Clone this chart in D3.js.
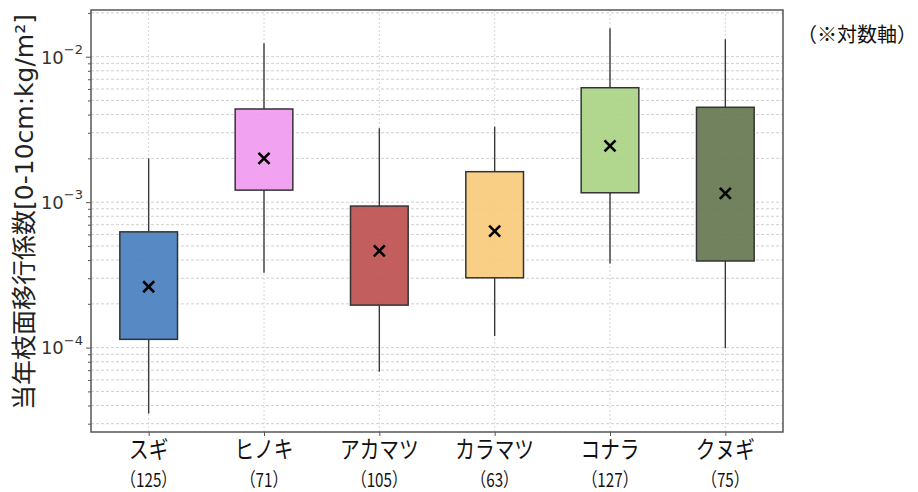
<!DOCTYPE html>
<html>
<head>
<meta charset="utf-8">
<script src="https://cdn.jsdelivr.net/npm/d3@7"></script>
<style>
  html, body { margin: 0; padding: 0; background: #ffffff; }
  svg { display: block; }
</style>
</head>
<body>
<svg id="chart" width="918" height="492"></svg>
<script>
// Species, sample sizes and box statistics (log-scale values)
const categories = ["スギ", "ヒノキ", "アカマツ", "カラマツ", "コナラ", "クヌギ"];
const counts = [125, 71, 105, 63, 127, 75];
const whiskerLow = [3.52e-5, 3.27e-4, 6.83e-5, 1.20e-4, 3.79e-4, 9.9e-5];
const q1 = [1.14e-4, 1.21e-3, 1.96e-4, 3.02e-4, 1.16e-3, 3.94e-4];
const q3 = [6.25e-4, 4.37e-3, 9.40e-4, 1.62e-3, 6.12e-3, 4.49e-3];
const whiskerHigh = [2.00e-3, 1.235e-2, 3.22e-3, 3.30e-3, 1.57e-2, 1.32e-2];
const means = [2.62e-4, 2.00e-3, 4.63e-4, 6.32e-4, 2.44e-3, 1.15e-3];
const boxColors = ["#4a80c0", "#f09cf0", "#bd5252", "#f7cb7c", "#abd487", "#687852"];
const majorTicks = [1e-4, 1e-3, 1e-2];
const yLabel = "当年枝面移行係数[0-10cm:kg/m²]";
const note = "（※対数軸）";

const svg = d3.select("#chart");
const plot = { left: 91, right: 783, top: 10, bottom: 432 };

const x = d3.scaleLinear().domain([0.5, categories.length + 0.5]).range([plot.left, plot.right]);
const y = d3.scaleLog().domain([2.63e-5, 2.094e-2]).range([plot.bottom, plot.top]);

// minor tick values: 2..9 x each decade, inside the domain
const minorTicks = [];
for (let e = -5; e <= -2; e++) {
  for (let k = 2; k <= 9; k++) {
    const v = k * Math.pow(10, e);
    if (v >= y.domain()[0] && v <= y.domain()[1]) minorTicks.push(v);
  }
}

const boxW = x(1.25) - x(0.75);
const data = categories.map((c, i) => ({
  i, name: c, n: counts[i], lo: whiskerLow[i], q1: q1[i], q3: q3[i], hi: whiskerHigh[i], mean: means[i], color: boxColors[i]
}));

// grid
const grid = svg.append("g");
grid.selectAll("line.h")
  .data(majorTicks.concat(minorTicks))
  .join("line")
  .attr("x1", plot.left).attr("x2", plot.right)
  .attr("y1", d => y(d)).attr("y2", d => y(d))
  .attr("stroke", "#cfcfcf").attr("stroke-width", 1)
  .attr("stroke-dasharray", "3,2");
grid.selectAll("line.v")
  .data(data)
  .join("line")
  .attr("x1", d => x(d.i + 1)).attr("x2", d => x(d.i + 1))
  .attr("y1", plot.top).attr("y2", plot.bottom)
  .attr("stroke", "#d6d6d6").attr("stroke-width", 1)
  .attr("stroke-dasharray", "2,2");

// whiskers
const boxes = svg.append("g");
boxes.selectAll("line.wl")
  .data(data)
  .join("line")
  .attr("x1", d => x(d.i + 1)).attr("x2", d => x(d.i + 1))
  .attr("y1", d => y(d.lo)).attr("y2", d => y(d.q1))
  .attr("stroke", "#3a3a3a").attr("stroke-width", 1.4);
boxes.selectAll("line.wh")
  .data(data)
  .join("line")
  .attr("x1", d => x(d.i + 1)).attr("x2", d => x(d.i + 1))
  .attr("y1", d => y(d.q3)).attr("y2", d => y(d.hi))
  .attr("stroke", "#3a3a3a").attr("stroke-width", 1.4);

// boxes
boxes.selectAll("rect")
  .data(data)
  .join("rect")
  .attr("x", d => x(d.i + 1) - boxW / 2)
  .attr("width", boxW)
  .attr("y", d => y(d.q3))
  .attr("height", d => y(d.q1) - y(d.q3))
  .attr("fill", d => d.color)
  .attr("fill-opacity", 0.93)
  .attr("stroke", "#333333").attr("stroke-width", 1.5);

// mean markers
const mk = 5.5;
const meanG = boxes.selectAll("g.mean")
  .data(data)
  .join("g")
  .attr("transform", d => `translate(${x(d.i + 1)},${y(d.mean)})`);
meanG.append("line").attr("x1", -mk).attr("y1", -mk).attr("x2", mk).attr("y2", mk)
  .attr("stroke", "#000").attr("stroke-width", 2.6);
meanG.append("line").attr("x1", -mk).attr("y1", mk).attr("x2", mk).attr("y2", -mk)
  .attr("stroke", "#000").attr("stroke-width", 2.6);

// frame
svg.append("rect")
  .attr("x", plot.left).attr("y", plot.top)
  .attr("width", plot.right - plot.left).attr("height", plot.bottom - plot.top)
  .attr("fill", "none").attr("stroke", "#555555").attr("stroke-width", 1.5);

// y axis: major ticks with powers of ten, minor ticks unlabeled
const yMajor = svg.append("g")
  .attr("transform", `translate(${plot.left},0)`)
  .call(d3.axisLeft(y).tickValues(majorTicks).tickSize(5).tickPadding(3).tickFormat(() => ""));
const yMinor = svg.append("g")
  .attr("transform", `translate(${plot.left},0)`)
  .call(d3.axisLeft(y).tickValues(minorTicks).tickSize(3).tickFormat(() => ""));
[yMajor, yMinor].forEach(g => {
  g.select(".domain").remove();
  g.selectAll(".tick line").attr("stroke", "#555").attr("stroke-width", 1);
});
yMajor.selectAll(".tick text").each(function(d) {
  const t = d3.select(this)
    .attr("font-family", "DejaVu Sans, sans-serif")
    .attr("font-size", 18)
    .attr("fill", "#333")
    .attr("dy", "0.35em");
  t.append("tspan").text("10");
  t.append("tspan").attr("font-size", 13).attr("dy", "-0.75em")
    .text("−" + Math.round(-Math.log10(d)));
});

// x axis
const xAxis = svg.append("g")
  .attr("transform", `translate(0,${plot.bottom})`)
  .call(d3.axisBottom(x).tickValues(data.map(d => d.i + 1)).tickSize(4).tickFormat(() => ""));
xAxis.select(".domain").remove();
xAxis.selectAll(".tick line").attr("stroke", "#555").attr("stroke-width", 1);

const xl = svg.append("g");
xl.selectAll("text.name")
  .data(data)
  .join("text")
  .attr("class", "name")
  .attr("transform", d => `translate(${x(d.i + 1)},458) scale(0.82,1)`)
  .attr("text-anchor", "middle")
  .attr("font-family", "Noto Sans CJK JP, sans-serif")
  .attr("font-size", 24)
  .attr("fill", "#111")
  .text(d => d.name);
xl.selectAll("text.n")
  .data(data)
  .join("text")
  .attr("class", "n")
  .attr("transform", d => `translate(${x(d.i + 1)},487) scale(0.8,1)`)
  .attr("text-anchor", "middle")
  .attr("font-family", "Noto Sans CJK JP, sans-serif")
  .attr("font-size", 19)
  .attr("fill", "#111")
  .text(d => `（${d.n}）`);

// y axis title
svg.append("text")
  .attr("transform", `translate(33,212) rotate(-90)`)
  .attr("text-anchor", "middle")
  .attr("font-family", "DejaVu Sans, Noto Sans CJK JP, sans-serif")
  .attr("font-size", 25)
  .attr("fill", "#222")
  .text(yLabel);

// note on the axis type
svg.append("text")
  .attr("x", 857).attr("y", 42)
  .attr("text-anchor", "middle")
  .attr("font-family", "Noto Sans CJK JP, sans-serif")
  .attr("font-size", 20)
  .attr("fill", "#111")
  .text(note);
</script>
</body>
</html>
